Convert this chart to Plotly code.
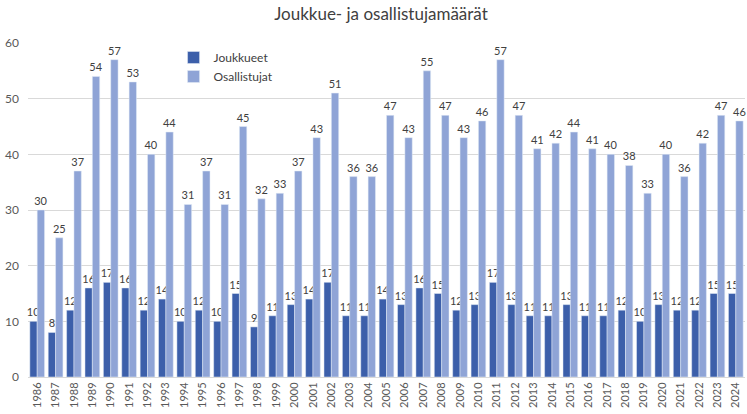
import plotly.graph_objects as go

years = [str(y) for y in range(1986, 2025)]
joukkueet = [10, 8, 12, 16, 17, 16, 12, 14, 10, 12, 10, 15, 9, 11, 13, 14, 17, 11, 11, 14,
             13, 16, 15, 12, 13, 17, 13, 11, 11, 13, 11, 11, 12, 10, 13, 12, 12, 15, 15]
osallistujat = [30, 25, 37, 54, 57, 53, 40, 44, 31, 37, 31, 45, 32, 33, 37, 43, 51, 36, 36, 47,
                43, 55, 47, 43, 46, 57, 47, 41, 42, 44, 41, 40, 38, 33, 40, 36, 42, 47, 46]

fnt = "Lato, Noto Sans, sans-serif"

fig = go.Figure()
fig.add_trace(go.Bar(x=years, y=joukkueet, name="Joukkueet", marker_color="#3C5FAA",
                     text=joukkueet, textposition="outside", constraintext="none",
                     cliponaxis=False, textfont=dict(size=11, color="#404040")))
fig.add_trace(go.Bar(x=years, y=osallistujat, name="Osallistujat", marker_color="#8FA4D6",
                     text=osallistujat, textposition="outside", constraintext="none",
                     cliponaxis=False, textfont=dict(size=11, color="#404040")))

fig.update_layout(
    width=747, height=414,
    margin=dict(l=28, r=2, t=43, b=37),
    paper_bgcolor="white", plot_bgcolor="white",
    font=dict(family=fnt, size=11, color="#595959"),
    title=dict(text="Joukkue- ja osallistujamäärät", x=0.51, xanchor="center", y=0.965,
               yanchor="middle", font=dict(size=17, color="#404040")),
    barmode="group", bargap=0.2, bargroupgap=0,
    legend=dict(x=0.203, y=1.0, xanchor="left", yanchor="top",
                bgcolor="rgba(0,0,0,0)", font=dict(size=12, color="#404040"),
                itemwidth=30),
    showlegend=True,
)
fig.update_xaxes(tickangle=-90, showgrid=False, showline=True, linecolor="#d9d9d9",
                 ticks="", automargin=False, tickfont=dict(size=11, color="#595959"))
fig.update_yaxes(range=[0, 60], dtick=10, showgrid=True, gridcolor="#d9d9d9",
                 zeroline=False, ticks="", automargin=False, ticklabelstandoff=8,
                 tickfont=dict(size=12, color="#595959"))

fig.write_html("out.html", config={"displayModeBar": False},
               post_script="document.body.style.margin='0';")
